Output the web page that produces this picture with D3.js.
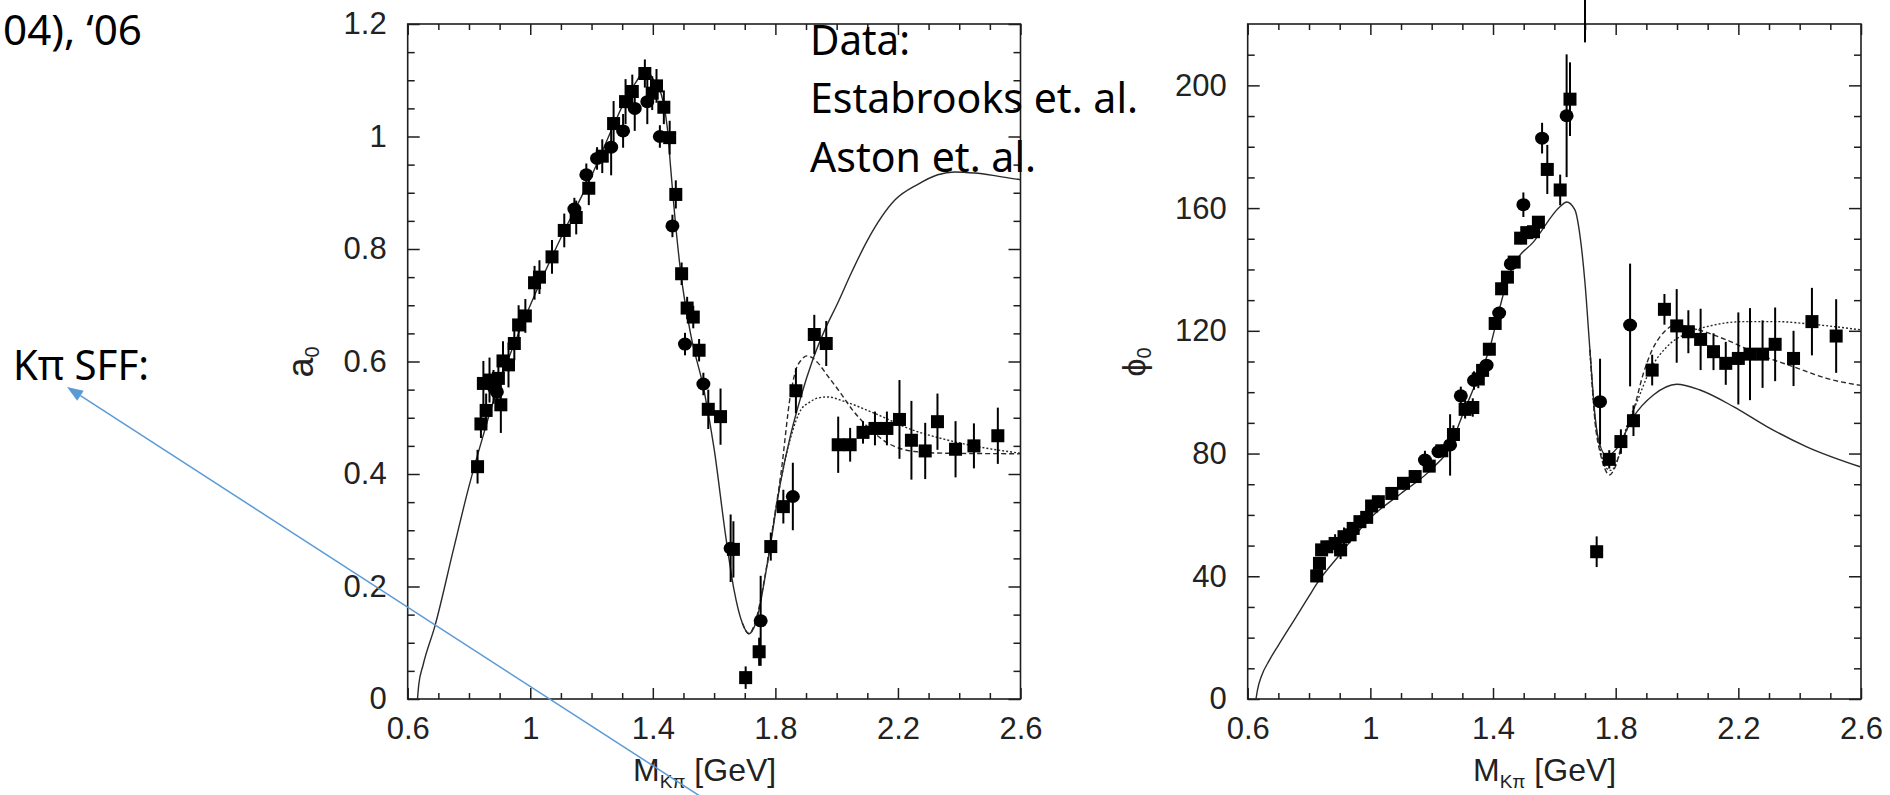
<!DOCTYPE html>
<html>
<head>
<meta charset="utf-8">
<script src="https://cdn.jsdelivr.net/npm/d3@7"></script>
<style>
  body { margin: 0; background: #fff; }
  svg { display: block; }
</style>
</head>
<body>
<div id="chart"></div>
<script>
// ** tick values / labels **
const xTicks = [0.6, 1, 1.4, 1.8, 2.2, 2.6];
const xTickLabels = ["0.6", "1", "1.4", "1.8", "2.2", "2.6"];
const a0Ticks = [0, 0.2, 0.4, 0.6, 0.8, 1, 1.2];
const a0TickLabels = ["0", "0.2", "0.4", "0.6", "0.8", "1", "1.2"];
const phiTicks = [0, 40, 80, 120, 160, 200];
const phiTickLabels = ["0", "40", "80", "120", "160", "200"];

// ** data points: [M, value, error] **
const a0Squares = [
  [0.828,0.413,0.03],[0.839,0.489,0.025],[0.856,0.513,0.03],[0.847,0.561,0.04],[0.867,0.567,0.04],
  [0.896,0.570,0.03],[0.904,0.523,0.05],[0.911,0.601,0.035],[0.929,0.594,0.04],[0.948,0.632,0.03],
  [0.962,0.665,0.035],[0.984,0.681,0.03],[1.014,0.740,0.03],[1.030,0.750,0.03],[1.071,0.786,0.03],
  [1.111,0.833,0.03],[1.150,0.856,0.03],[1.191,0.908,0.03],[1.235,0.965,0.03],[1.272,1.023,0.04],
  [1.311,1.062,0.04],[1.333,1.080,0.03],[1.374,1.112,0.025],[1.398,1.077,0.03],[1.412,1.090,0.03],
  [1.436,1.052,0.03],[1.455,0.998,0.03],[1.475,0.897,0.025],[1.494,0.756,0.02],[1.512,0.695,0.02],
  [1.532,0.679,0.02],[1.551,0.620,0.02],[1.581,0.515,0.035],[1.621,0.502,0.05],[1.663,0.266,0.05],
  [1.703,0.038,0.02],[1.747,0.084,0.025],[1.785,0.271,0.025],[1.826,0.342,0.03],[1.867,0.548,0.04],
  [1.927,0.648,0.035],[1.966,0.632,0.04],[2.005,0.452,0.05],[2.044,0.452,0.03],[2.086,0.474,0.02],
  [2.125,0.481,0.03],[2.164,0.481,0.03],[2.205,0.497,0.07],[2.244,0.460,0.07],[2.289,0.441,0.05],
  [2.329,0.493,0.05],[2.388,0.444,0.05],[2.448,0.450,0.04],[2.526,0.468,0.05]
];
const a0Circles = [
  [0.880,0.555,0.03],[0.891,0.546,0.03],[1.144,0.871,0.02],[1.183,0.932,0.02],[1.218,0.961,0.02],
  [1.264,0.981,0.05],[1.303,1.010,0.03],[1.341,1.050,0.04],[1.382,1.062,0.04],[1.423,1.000,0.02],
  [1.464,0.841,0.02],[1.505,0.631,0.02],[1.565,0.560,0.02],[1.654,0.268,0.06],[1.752,0.139,0.08],
  [1.857,0.360,0.06]
];
const phiSquares = [
  [0.825,40.1,2],[0.834,44.2,2],[0.841,48.6,2],[0.858,49.6,2],[0.885,50.7,3],[0.903,48.6,3],
  [0.914,52.9,3],[0.934,53.5,2],[0.944,55.6,2],[0.966,57.8,2],[0.988,59.2,2],[1.004,62.9,2],
  [1.026,64.3,2],[1.070,67.0,2],[1.108,70.3,2],[1.146,72.5,2],[1.192,75.9,2],[1.233,80.9,2],
  [1.271,86.2,3],[1.309,94.4,3],[1.334,95.0,3],[1.352,104.3,3],[1.366,107.1,3],[1.388,114.0,2],
  [1.407,122.4,2],[1.428,133.7,2],[1.447,137.5,2],[1.469,142.4,2],[1.490,150.2,2],[1.510,152.0,2],
  [1.532,152.3,2],[1.548,155.4,2],[1.577,172.6,8],[1.619,165.9,5],[1.651,195.5,12],[1.700,240,26],
  [1.738,48.0,5],[1.779,78.1,3],[1.817,83.9,4],[1.858,90.7,5],[1.919,107.2,5],[1.959,127.0,5],
  [1.999,121.6,12],[2.037,119.7,7],[2.077,117.2,10],[2.119,113.2,6],[2.159,109.4,7],[2.200,111,15],
  [2.238,112.4,15],[2.279,112.4,11],[2.320,115.6,12],[2.380,111,9],[2.440,123,11],[2.519,118.3,12]
];
const phiCircles = [
  [1.178,77.9,3],[1.222,80.6,2],[1.260,82.8,10],[1.295,98.8,3],[1.338,103.8,3],[1.379,108.8,2],
  [1.420,125.8,2],[1.458,141.8,2],[1.499,161.1,4],[1.560,182.8,5],[1.640,190.1,20],[1.749,96.9,14],
  [1.847,121.9,20]
];

// ** model curves: [M, value] **
const a0Solid = [
  [0.632,0],[0.636,0.025],[0.65,0.06],[0.689,0.13],[0.749,0.265],[0.80,0.378],[0.826,0.43],
  [0.85,0.475],[0.88,0.53],[0.92,0.592],[1.0,0.70],[1.1,0.82],[1.2,0.93],[1.272,1.02],[1.311,1.066],
  [1.349,1.10],[1.374,1.12],[1.403,1.10],[1.431,1.068],[1.447,1.017],[1.458,0.946],[1.469,0.875],
  [1.49,0.763],[1.523,0.650],[1.567,0.549],[1.60,0.445],[1.638,0.289],[1.665,0.194],[1.692,0.135],
  [1.714,0.116],[1.736,0.135],[1.774,0.241],[1.818,0.389],[1.85,0.47],[1.883,0.537],[1.92,0.60],
  [1.966,0.662],[2.0,0.70],[2.05,0.76],[2.1,0.815],[2.19,0.887],[2.265,0.915],[2.33,0.932],
  [2.385,0.937],[2.45,0.935],[2.52,0.93],[2.6,0.923]
];
const a0Dashed = [
  [1.692,0.135],[1.714,0.116],[1.736,0.14],[1.765,0.215],[1.79,0.30],[1.818,0.40],[1.85,0.543],
  [1.867,0.585],[1.885,0.603],[1.903,0.610],[1.92,0.607],[1.938,0.598],[1.97,0.575],[2.014,0.543],
  [2.05,0.515],[2.09,0.49],[2.167,0.455],[2.254,0.44],[2.35,0.437],[2.6,0.436]
];
const a0Dotted = [
  [1.774,0.241],[1.818,0.389],[1.85,0.465],[1.883,0.514],[1.91,0.527],[1.938,0.535],[1.97,0.537],
  [2.025,0.529],[2.123,0.508],[2.254,0.477],[2.35,0.462],[2.428,0.452],[2.6,0.437]
];
const phiSolid = [
  [0.627,0],[0.632,3],[0.645,7.5],[0.67,12.5],[0.70,17.5],[0.75,25.5],[0.80,33.5],[0.825,37.5],
  [0.9,47],[1.0,59],[1.1,67],[1.2,75],[1.265,83.2],[1.292,90.4],[1.347,103.7],[1.39,114.6],
  [1.423,127.9],[1.45,137.5],[1.47,142],[1.532,149],[1.619,160.5],[1.640,162],[1.667,159.4],
  [1.684,150.7],[1.70,135.5],[1.716,113.8],[1.733,92],[1.747,83.3],[1.771,79.2],[1.804,81.7],
  [1.858,92],[1.923,99.1],[1.999,102.6],[2.075,100.7],[2.184,95.3],[2.293,88.8],[2.423,82.2],
  [2.597,75.7]
];
const phiDashed = [
  [1.716,113.8],[1.733,90],[1.75,80],[1.765,75],[1.779,73],[1.80,76],[1.82,83],[1.858,94],
  [1.89,106],[1.92,114],[1.945,118.1],[1.999,121.9],[2.053,120.8],[2.162,117],[2.271,112.1],
  [2.38,108.3],[2.488,104.5],[2.6,102.2]
];
const phiDotted = [
  [1.716,113.8],[1.733,91],[1.75,81],[1.767,75.5],[1.785,74.5],[1.81,79],[1.836,88.8],[1.87,97],
  [1.912,107.2],[1.967,114.8],[2.032,119.2],[2.108,121.6],[2.216,123],[2.325,123],[2.434,122.2],
  [2.6,120.3]
];

// ** page **
const wid = 1890, hei = 795;
const svg = d3.select("#chart").append("svg")
  .attr("width", wid).attr("height", hei)
  .style("background", "#fff");

const tickFont = "'Liberation Sans', Arial, Helvetica, sans-serif";
const noteFont = "'Noto Sans', 'Open Sans', sans-serif";
const ink = "#1e1e1e";

// minor tick positions (x every 0.1, y every 0.05 / 10 deg)
const xMinor = d3.range(6, 27).filter(i => (i - 6) % 4 !== 0).map(i => i / 10);
const a0Minor = d3.range(0, 24).filter(i => i % 4 !== 0).map(i => i * 0.05);
const phiMinor = d3.range(0, 22).filter(i => i % 4 !== 0).map(i => i * 10);

function drawPanel(cfg) {
  const x = d3.scaleLinear().domain([0.6, 2.6]).range([cfg.left, cfg.right]);
  const y = d3.scaleLinear().domain(cfg.yDomain).range([699, 24]);
  const g = svg.append("g");

  // frame
  g.append("rect")
    .attr("x", cfg.left).attr("y", 24)
    .attr("width", cfg.right - cfg.left).attr("height", 675)
    .attr("fill", "none").attr("stroke", ink).attr("stroke-width", 1.6);

  // axes: major + minor, mirrored on all sides, ticks inward
  const axes = [
    [d3.axisBottom(x).tickValues(xTicks).tickFormat((d, i) => xTickLabels[i]).tickSize(-11).tickPadding(18), `translate(0,699)`],
    [d3.axisBottom(x).tickValues(xMinor).tickFormat("").tickSize(-6), `translate(0,699)`],
    [d3.axisTop(x).tickValues(xTicks).tickFormat("").tickSize(-11), `translate(0,24)`],
    [d3.axisTop(x).tickValues(xMinor).tickFormat("").tickSize(-6), `translate(0,24)`],
    [d3.axisLeft(y).tickValues(cfg.yTicks).tickFormat((d, i) => cfg.yLabels[i]).tickSize(-12).tickPadding(21), `translate(${cfg.left},0)`],
    [d3.axisLeft(y).tickValues(cfg.yMinor).tickFormat("").tickSize(-7), `translate(${cfg.left},0)`],
    [d3.axisRight(y).tickValues(cfg.yTicks).tickFormat("").tickSize(-12), `translate(${cfg.right},0)`],
    [d3.axisRight(y).tickValues(cfg.yMinor).tickFormat("").tickSize(-7), `translate(${cfg.right},0)`]
  ];
  axes.forEach(([ax, tr]) => {
    const a = g.append("g").attr("transform", tr).call(ax);
    a.select(".domain").remove();
    a.attr("color", ink).attr("font-family", tickFont).attr("font-size", 31);
    a.selectAll("line").attr("stroke-width", 1.5);
    a.selectAll("text").attr("fill", "#222");
  });

  // model curves
  const line = d3.line().x(d => x(d[0])).y(d => y(d[1])).curve(d3.curveMonotoneX);
  cfg.curves.forEach(c => {
    g.append("path").datum(c.data)
      .attr("d", line)
      .attr("fill", "none")
      .attr("stroke", "#2a2a2a")
      .attr("stroke-width", 1.4)
      .attr("stroke-dasharray", c.dash);
  });

  // error bars
  const allPts = cfg.squares.concat(cfg.circles);
  g.append("g").selectAll("line").data(allPts).enter().append("line")
    .attr("x1", d => x(d[0])).attr("x2", d => x(d[0]))
    .attr("y1", d => y(d[1] - d[2])).attr("y2", d => y(d[1] + d[2]))
    .attr("stroke", "#000").attr("stroke-width", 2);

  // squares
  g.append("g").selectAll("rect").data(cfg.squares).enter().append("rect")
    .attr("x", d => x(d[0]) - 6.5).attr("y", d => y(d[1]) - 6.5)
    .attr("width", 13).attr("height", 13).attr("fill", "#000");

  // circles
  g.append("g").selectAll("ellipse").data(cfg.circles).enter().append("ellipse")
    .attr("cx", d => x(d[0])).attr("cy", d => y(d[1]))
    .attr("rx", 7).attr("ry", 6.5).attr("fill", "#000");

  // x title  M_Kπ [GeV]
  const xt = g.append("text")
    .attr("x", cfg.xTitleX).attr("y", 781)
    .attr("font-family", tickFont).attr("fill", "#222");
  xt.append("tspan").attr("font-size", 32).text("M");
  xt.append("tspan").attr("font-size", 19).attr("dy", 7).text("Kπ");
  xt.append("tspan").attr("font-size", 32).attr("dy", -7).text(" [GeV]");

  // y title
  const yt = g.append("text")
    .attr("transform", `translate(${cfg.yTitleX},362) rotate(-90)`)
    .attr("text-anchor", "middle")
    .attr("font-family", tickFont).attr("fill", "#222");
  yt.append("tspan").attr("font-size", cfg.yTitleSize).text(cfg.yTitle);
  yt.append("tspan").attr("font-size", 20).attr("dy", 6).text("0");
}

drawPanel({
  left: 407.7, right: 1020.5,
  yDomain: [0, 1.2], yTicks: a0Ticks, yLabels: a0TickLabels, yMinor: a0Minor,
  squares: a0Squares, circles: a0Circles,
  curves: [
    { data: a0Solid, dash: null },
    { data: a0Dashed, dash: "5,3" },
    { data: a0Dotted, dash: "2,2" }
  ],
  xTitleX: 633, yTitleX: 313, yTitle: "a", yTitleSize: 36
});

drawPanel({
  left: 1247.7, right: 1861,
  yDomain: [0, 220], yTicks: phiTicks, yLabels: phiTickLabels, yMinor: phiMinor,
  squares: phiSquares, circles: phiCircles,
  curves: [
    { data: phiSolid, dash: null },
    { data: phiDashed, dash: "5,3" },
    { data: phiDotted, dash: "2,2" }
  ],
  xTitleX: 1473, yTitleX: 1145, yTitle: "ϕ", yTitleSize: 32
});

// ** slide annotations **
const notes = [
  { text: "04), ‘06", x: 3, y: 45, w: 139 },
  { text: "Kπ SFF:", x: 13, y: 380, w: 136 },
  { text: "Data:", x: 810, y: 55, w: 100 },
  { text: "Estabrooks et. al.", x: 810, y: 113, w: 328 },
  { text: "Aston et. al.", x: 810, y: 172, w: 226 }
];
svg.append("g").selectAll("text").data(notes).enter().append("text")
  .attr("x", d => d.x).attr("y", d => d.y)
  .attr("font-family", noteFont).attr("font-size", 42)
  .attr("textLength", d => d.w).attr("lengthAdjust", "spacingAndGlyphs")
  .attr("fill", "#000")
  .text(d => d.text);

// blue pointer arrow
const tip = [67, 387], tail = [706, 800];
const ux = tail[0] - tip[0], uy = tail[1] - tip[1], ul = Math.hypot(ux, uy);
const dx = ux / ul, dy = uy / ul;
const baseX = tip[0] + dx * 16, baseY = tip[1] + dy * 16;
svg.append("line")
  .attr("x1", tail[0]).attr("y1", tail[1]).attr("x2", baseX).attr("y2", baseY)
  .attr("stroke", "#5B9BD5").attr("stroke-width", 1.5);
svg.append("polygon")
  .attr("points", [
    tip,
    [baseX - dy * 6, baseY + dx * 6],
    [baseX + dy * 6, baseY - dx * 6]
  ].map(p => p.join(",")).join(" "))
  .attr("fill", "#5B9BD5");
</script>
</body>
</html>
